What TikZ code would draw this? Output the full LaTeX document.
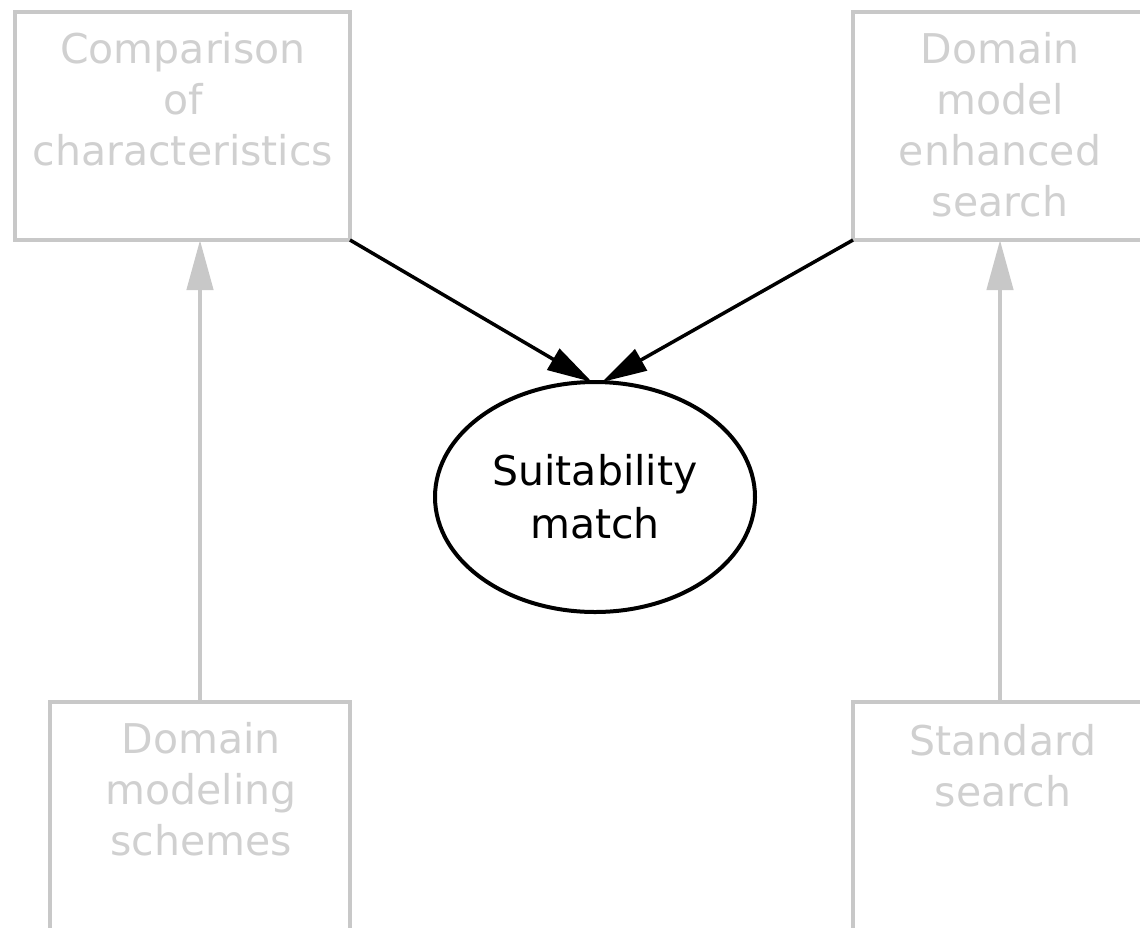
\documentclass[tikz,border=0pt]{standalone}
\usepackage{fontspec}
\setmainfont{DejaVu Sans}
\usetikzlibrary{shapes.geometric,arrows.meta}
\definecolor{boxgray}{RGB}{200,200,200}
\definecolor{labelgray}{RGB}{208,208,208}

\begin{document}
\begin{tikzpicture}[x=1pt,y=-1pt,
  block/.style={draw=boxgray, line width=4.5pt, rectangle, inner sep=0pt, outer sep=0pt},
  blocktext/.style={text=labelgray, anchor=north, inner sep=0pt, align=center,
    font=\fontsize{41}{51}\selectfont},
  goal/.style={draw=black, line width=4pt, ellipse, minimum width=320pt,
    minimum height=230pt, inner sep=0pt, outer sep=0pt, align=center,
    font=\fontsize{41}{53}\selectfont},
  feed/.style={draw=boxgray, line width=4.5pt, -{Triangle[length=50pt,width=26pt]}},
  flow/.style={draw=black, line width=3.5pt, -{Triangle[length=45pt,width=24pt]}},
]
\useasboundingbox (0,0) rectangle (1140,927);
\clip (0,0) rectangle (1140,927);

% outer boxes
\node[block, minimum width=335pt, minimum height=228pt] (cmp) at (182.5,126) {};
\node[block, minimum width=294pt, minimum height=228pt] (dme) at (1000,126) {};
\node[block, minimum width=300pt, minimum height=228pt] (dms) at (200,816) {};
\node[block, minimum width=294pt, minimum height=228pt] (std) at (1000,816) {};

% box captions
\node[blocktext] (cmptext) at (183,32) {Comparison\\of\\characteristics};
\node[blocktext] (dmetext) at (1000,32) {Domain\\model\\enhanced\\search};
\node[blocktext] (dmstext) at (201,722) {Domain\\modeling\\schemes};
\node[blocktext] (stdtext) at (1003,724) {Standard\\search};

% central goal
\node[goal] (match) at (595,497) {Suitability\\match};

% connectors
\draw[feed] (dms.north) -- (dms.north |- cmp.south);
\draw[feed] (std.north) -- (std.north |- dme.south);
\draw[flow] (cmp.south east) -- ([xshift=-3pt]match.north);
\draw[flow] (dme.south west) -- ([xshift=7pt]match.north);
\end{tikzpicture}
\end{document}
